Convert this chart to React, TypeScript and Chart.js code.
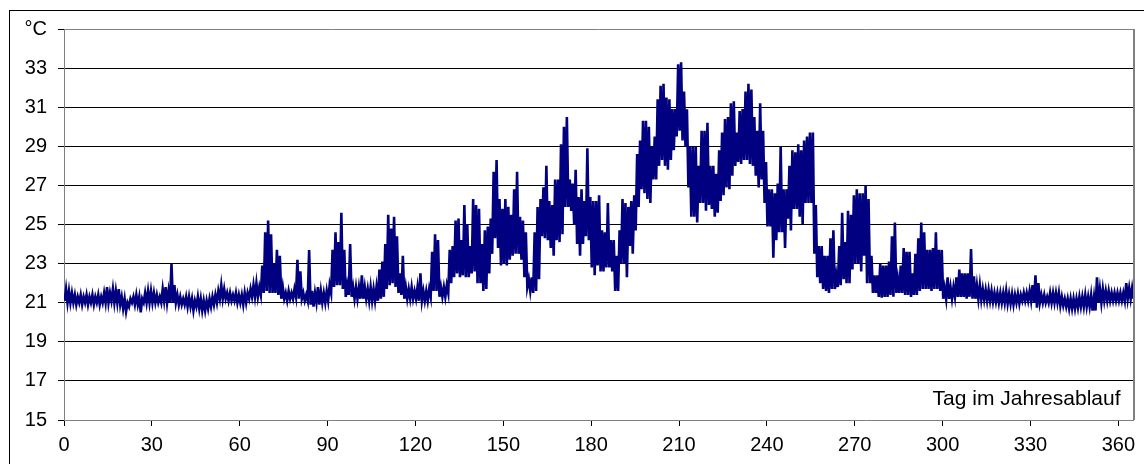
import React, { useEffect, useRef } from "react";
import { Chart, registerables } from "chart.js";

Chart.register(...registerables);

// Day of year tick labels
const xTicks = [0, 30, 60, 90, 120, 150, 180, 210, 240, 270, 300, 330, 360];
const yMin = 15;
const yMax = 35;
const yStep = 2;
const yUnitLabel = "°C";
const xAxisCaption = "Tag im Jahresablauf";

// Daily maximum temperature (°C), day 0..365
const dailyHigh = [
  21.7, 21.6, 21.5, 21.4, 21.3, 21.4, 21.3, 21.4, 21.3, 21.4,
  21.3, 21.4, 21.3, 21.5, 21.8, 21.5, 21.7, 21.6, 21.7, 21.3,
  21.2, 21.0, 21.2, 21.3, 21.4, 21.3, 21.2, 21.5, 21.6, 21.6,
  21.5, 21.4, 21.3, 21.7, 21.8, 21.6, 23.0, 21.9, 21.4, 21.3,
  21.2, 21.3, 21.3, 21.2, 21.1, 21.3, 21.2, 21.1, 21.1, 21.2,
  21.3, 21.4, 21.6, 21.9, 21.7, 21.5, 21.5, 21.4, 21.5, 21.4,
  21.4, 21.5, 21.5, 21.7, 21.9, 22.0, 21.8, 22.9, 24.6, 25.2,
  24.5, 23.0, 23.7, 23.4, 21.8, 21.5, 21.6, 21.5, 21.7, 23.2,
  22.6, 21.5, 21.4, 23.7, 21.6, 21.5, 21.8, 21.6, 21.5, 21.6,
  21.9, 23.7, 24.6, 24.1, 25.6, 23.7, 21.9, 24.0, 21.8, 21.8,
  21.8, 22.4, 21.8, 21.7, 21.8, 21.7, 21.8, 22.7, 23.1, 24.0,
  25.5, 24.8, 25.4, 24.4, 22.5, 23.4, 21.8, 21.7, 21.8, 21.6,
  21.8, 22.5, 21.6, 21.6, 21.7, 23.6, 24.5, 24.2, 21.8, 21.8,
  21.9, 23.7, 23.9, 25.2, 25.3, 24.2, 26.0, 25.0, 23.9, 26.3,
  26.0, 25.8, 24.0, 24.7, 24.9, 25.3, 27.7, 28.3, 26.3, 25.8,
  26.3, 25.9, 25.5, 26.8, 27.7, 25.4, 25.2, 24.6, 22.2, 22.3,
  24.6, 25.9, 26.3, 26.9, 28.0, 26.2, 26.0, 27.3, 27.3, 29.1,
  30.0, 30.5, 27.3, 27.1, 27.8, 26.4, 26.8, 26.2, 28.9, 26.4,
  26.2, 26.2, 26.5, 24.7, 24.6, 26.1, 24.2, 24.2, 23.4, 24.7,
  26.3, 26.1, 25.9, 26.2, 26.5, 28.6, 29.3, 30.3, 30.3, 30.0,
  29.0, 29.5, 31.4, 32.1, 32.2, 31.5, 31.4, 30.9, 30.9, 33.2,
  33.3, 31.8, 30.9, 29.0, 29.0, 29.0, 28.0, 29.8, 29.8, 30.2,
  28.0, 28.0, 27.6, 28.8, 29.7, 30.4, 30.5, 31.2, 31.3, 29.7,
  30.8, 30.9, 31.8, 32.2, 31.9, 30.5, 29.8, 31.2, 29.8, 28.2,
  26.8, 26.8, 26.6, 27.1, 29.0, 26.8, 26.8, 28.0, 28.8, 28.7,
  29.1, 28.8, 29.3, 29.5, 29.7, 29.7, 26.0, 23.9, 23.9, 23.4,
  23.4, 24.3, 24.7, 22.4, 23.9, 25.6, 24.1, 25.7, 25.5, 26.5,
  26.8, 26.6, 26.6, 27.0, 26.3, 23.4, 22.4, 22.4, 23.0, 22.9,
  22.9, 23.1, 24.4, 25.1, 22.2, 22.9, 23.8, 23.6, 23.6, 22.5,
  23.5, 24.3, 25.1, 24.6, 23.7, 23.7, 23.8, 24.6, 23.7, 23.7,
  21.75, 22.3, 21.8, 21.8, 22.3, 22.7, 22.5, 22.5, 22.5, 23.75,
  22.35, 21.9, 21.9, 21.7, 21.65, 21.65, 21.6, 21.5, 21.5, 21.5,
  21.5, 21.6, 21.45, 21.45, 21.4, 21.45, 21.4, 21.5, 21.5, 21.6,
  21.9, 22.4, 22.0, 21.4, 21.4, 21.3, 21.5, 21.5, 21.5, 21.5,
  21.3, 21.2, 21.2, 21.2, 21.2, 21.2, 21.3, 21.3, 21.4, 21.3,
  21.4, 21.3, 22.3, 21.7, 21.7, 21.6, 21.6, 21.5, 21.5, 21.5,
  21.5, 21.5, 22.0, 21.75, 21.75, 21.6,
];

// Daily minimum temperature (°C), day 0..365
const dailyLow = [
  21.1, 21.0, 21.0, 21.0, 20.9, 21.0, 20.9, 21.0, 20.9, 21.0,
  20.9, 21.0, 20.9, 21.0, 21.0, 21.0, 21.1, 21.0, 21.0, 20.9,
  20.7, 20.55, 20.8, 21.0, 20.9, 20.9, 20.5, 21.0, 21.0, 21.0,
  21.0, 21.0, 21.0, 21.0, 21.1, 21.0, 21.0, 21.0, 21.0, 20.9,
  20.9, 20.9, 20.8, 20.8, 20.6, 20.8, 20.7, 20.6, 20.6, 20.7,
  20.8, 20.9, 21.0, 21.2, 21.2, 21.2, 21.1, 21.1, 21.1, 21.0,
  21.0, 20.9, 21.0, 21.2, 21.3, 21.3, 21.3, 21.4, 21.5, 21.6,
  21.5, 21.5, 21.5, 21.4, 21.2, 21.2, 21.1, 21.2, 21.2, 21.3,
  21.2, 21.2, 21.1, 21.1, 20.9, 20.8, 21.0, 20.9, 21.0, 21.0,
  21.1, 21.5, 21.8, 21.9, 21.9, 21.7, 21.3, 21.4, 21.3, 21.2,
  21.2, 21.2, 21.2, 21.2, 21.1, 21.1, 21.1, 21.1, 21.2, 21.3,
  21.7, 21.9, 22.0, 21.8, 21.5, 21.4, 21.2, 21.2, 21.2, 21.2,
  21.2, 21.1, 21.1, 21.1, 21.1, 21.3, 21.6, 21.6, 21.3, 21.3,
  21.3, 21.5, 22.0, 22.3, 22.5, 22.3, 22.4, 22.3, 22.3, 22.5,
  22.6, 22.0, 22.0, 21.6, 21.7, 22.5, 23.5, 24.3, 23.8, 22.9,
  23.0, 22.9, 23.2, 23.4, 23.5, 23.5, 23.2, 22.3, 21.8, 21.6,
  21.5, 21.6, 22.2, 24.4, 24.3, 24.2, 23.8, 23.4, 24.2, 24.1,
  24.5, 25.9, 25.9, 25.7, 25.0, 24.0, 23.4, 24.0, 24.4, 24.2,
  22.8, 22.4, 22.9, 22.6, 22.6, 22.8, 22.8, 22.6, 21.6, 21.6,
  23.0, 23.0, 22.3, 23.9, 23.5, 24.7, 25.9, 26.8, 26.6, 26.3,
  26.1, 27.3, 27.3, 28.0, 28.3, 28.0, 27.8, 28.3, 28.8, 29.5,
  29.8, 29.3, 29.0, 26.9, 25.4, 25.4, 25.1, 26.1, 26.1, 25.7,
  26.0, 25.8, 25.4, 25.6, 26.2, 26.5, 26.9, 26.8, 27.5, 28.0,
  28.2, 28.1, 28.3, 28.3, 28.1, 28.0, 27.5, 26.9, 27.3, 26.1,
  24.9, 24.9, 23.3, 24.2, 24.6, 24.6, 23.8, 25.3, 24.7, 25.8,
  25.8, 25.4, 25.0, 26.1, 26.1, 26.1, 23.5, 22.3, 22.0, 21.7,
  21.6, 21.5, 21.7, 21.7, 21.8, 21.9, 22.2, 22.0, 22.0, 22.7,
  23.0, 23.0, 22.6, 23.4, 22.0, 22.0, 21.5, 21.5, 21.3, 21.25,
  21.3, 21.3, 21.4, 21.3, 21.5, 21.5, 21.5, 21.4, 21.4, 21.3,
  21.4, 21.4, 21.6, 21.7, 21.7, 21.7, 21.6, 21.7, 21.7, 21.6,
  21.2, 21.2, 21.2, 21.2, 21.3, 21.3, 21.3, 21.3, 21.2, 21.3,
  21.2, 21.2, 21.2, 21.15, 21.15, 21.1, 21.1, 21.05, 21.05, 21.0,
  21.0, 21.0, 20.95, 20.95, 20.9, 21.0, 20.95, 21.1, 21.1, 21.1,
  21.1, 21.0, 20.75, 21.0, 21.0, 21.0, 21.0, 21.0, 21.0, 21.0,
  20.85, 20.85, 20.8, 20.7, 20.7, 20.7, 20.75, 20.8, 20.8, 20.8,
  20.8, 20.6, 20.6, 21.0, 21.0, 21.1, 21.1, 21.1, 21.1, 21.1,
  21.1, 21.1, 21.1, 21.2, 21.2, 21.2,
];

const FONT = "'Liberation Sans', Arial, Helvetica, sans-serif";

export default function App() {
  const canvasRef = useRef<HTMLCanvasElement | null>(null);

  useEffect(() => {
    const canvas = canvasRef.current;
    if (!canvas) return;

    const points: { x: number; y: number }[] = [];
    for (let d = 0; d < dailyHigh.length; d++) {
      points.push({ x: d + 0.2, y: dailyLow[d] });
      points.push({ x: d + 0.7, y: dailyHigh[d] });
    }

    const framePlugin = {
      id: "framePlugin",
      afterDraw(chart: any) {
        const { ctx, chartArea } = chart;
        ctx.save();
        // outer frame
        ctx.strokeStyle = "#000";
        ctx.lineWidth = 1;
        ctx.strokeRect(9.5, 10.5, 3000, 3000);
        // plot top + right borders
        ctx.strokeStyle = "#808080";
        ctx.lineWidth = 1;
        ctx.beginPath();
        ctx.moveTo(chartArea.left, Math.round(chartArea.top) + 0.5);
        ctx.lineTo(chartArea.right, Math.round(chartArea.top) + 0.5);
        ctx.stroke();
        ctx.lineWidth = 2;
        ctx.beginPath();
        ctx.moveTo(Math.round(chartArea.right) + 1, chartArea.top);
        ctx.lineTo(Math.round(chartArea.right) + 1, chartArea.bottom);
        ctx.stroke();
        // caption
        ctx.fillStyle = "#000";
        ctx.font = `21px ${FONT}`;
        ctx.textAlign = "right";
        ctx.textBaseline = "alphabetic";
        ctx.fillText(xAxisCaption, chartArea.right - 12.5, chartArea.bottom - 15);
        ctx.restore();
      },
    };

    const chart = new Chart(canvas, {
      type: "line",
      data: {
        datasets: [
          {
            data: points,
            borderColor: "#000080",
            borderWidth: 2.6,
            pointRadius: 0,
            tension: 0,
            fill: false,
          },
        ],
      },
      options: {
        animation: false,
        responsive: false,
        maintainAspectRatio: false,
        parsing: false as any,
        normalized: true,
        layout: { padding: { left: 0, top: 29, right: 11, bottom: 0 } },
        plugins: {
          legend: { display: false },
          tooltip: { enabled: false },
        },
        scales: {
          x: {
            type: "linear",
            min: 0,
            max: 365,
            afterFit: (scale: any) => {
              scale.height = 44;
            },
            afterBuildTicks: (scale: any) => {
              scale.ticks = xTicks.map((v) => ({ value: v }));
            },
            ticks: {
              color: "#000",
              font: { family: FONT, size: 20 },
              padding: 7,
              maxRotation: 0,
              autoSkip: false,
              callback: (v: any) => String(v),
            },
            grid: {
              drawOnChartArea: false,
              drawTicks: true,
              tickLength: 6,
              tickColor: "#000",
            },
            border: { color: "#808080", width: 1 },
          },
          y: {
            type: "linear",
            min: yMin,
            max: yMax,
            afterFit: (scale: any) => {
              scale.width = 64;
            },
            ticks: {
              stepSize: yStep,
              color: "#000",
              font: { family: FONT, size: 20 },
              padding: 11,
              callback: (v: any) => (Number(v) === yMax ? yUnitLabel : String(v)),
            },
            grid: {
              color: (ctx: any) =>
                ctx.tick && (ctx.tick.value === yMin || ctx.tick.value === yMax)
                  ? "rgba(0,0,0,0)"
                  : "#000",
              lineWidth: 1,
              tickLength: 6,
              tickColor: "#000",
            },
            border: { color: "#808080", width: 1 },
          },
        },
      },
      plugins: [framePlugin],
    });

    return () => {
      chart.destroy();
    };
  }, []);

  return (
    <div style={{ position: "fixed", left: 0, top: 0, width: 1144, height: 464, background: "#fff" }}>
      <canvas ref={canvasRef} width={1144} height={464} style={{ display: "block" }} />
    </div>
  );
}
